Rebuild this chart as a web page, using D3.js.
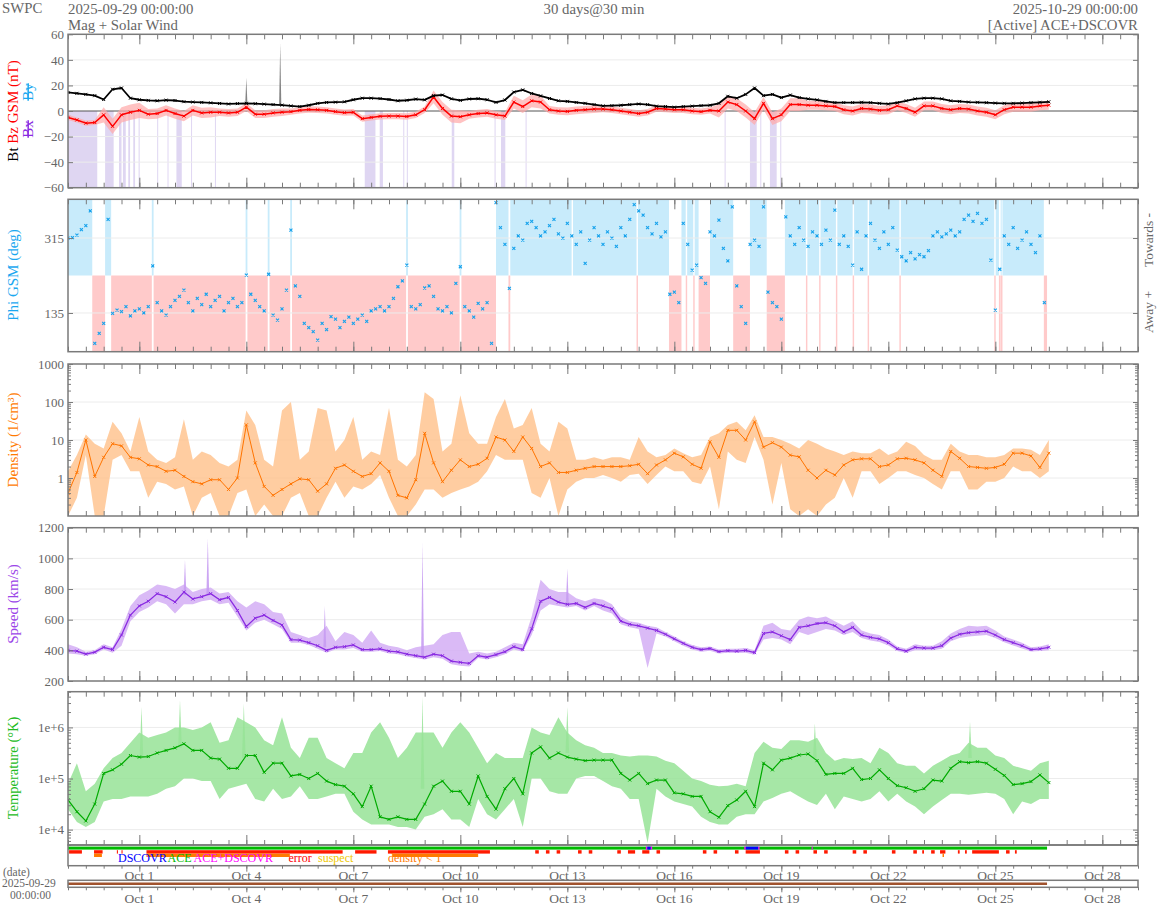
<!DOCTYPE html>
<html><head><meta charset="utf-8">
<script src="https://cdn.jsdelivr.net/npm/d3@7"></script>
<style>body{margin:0;background:#fff}svg{display:block}text{font-family:"Liberation Serif","Times New Roman",serif}</style>
</head><body><svg id="c" width="1158" height="905"></svg>
<script>
// ---------------- DATA (6-hour samples from 2025-09-29 00:00 UTC) ----------------
const tickLabels = ["Oct 1","Oct 4","Oct 7","Oct 10","Oct 13","Oct 16","Oct 19","Oct 22","Oct 25","Oct 28"];
const bt = [14.5,13.8,13,12,9,17,18,10,8.8,8.3,8,8.5,8.2,7.3,7,6.7,6.4,5.9,5.5,5.8,6,5.7,5.4,5,4.6,4,3.5,4.5,6,6.7,6.9,7.2,8.8,10,10,9.7,9,8,8.4,9.3,8.7,12,12.5,9.5,8.3,9.4,9.6,8.8,6.8,8.6,14.8,16.5,13.7,11.8,9.8,8,7.5,6.7,6,5,
 4,4.2,4.5,5,5.5,5,3.8,3.5,3,3.5,3.8,4.2,4.5,6,11.5,10,13,18,12,13,10.5,12.5,10.5,9.5,8.7,7.5,6.6,6.6,6.6,6.8,6.5,6,5.5,6.5,8,9.5,10,10,9.5,8,7.5,7,6.8,6.5,6.2,6,6,6.2,6.5,6.8,7.2];
const bz = [-5,-7,-9.5,-9,-3,-12,-3,-1,0.5,-2.5,-2,0.5,-2,-4,0.5,-1.5,-1,-1,-1.5,-1,3,-2.5,-2.5,-1.5,-1,-0.5,0.5,1.2,1,0.5,-0.5,-1.3,-1,-6,-5,-4.2,-4,-4,-4.3,-3,1,11,2,-4,-4.5,-3,-2,-1.5,-3,-4,7,3.5,8,7,1,0,-0.3,0.5,1,1.5,
 1.5,1,0,-1,-2,-1,2,1.5,1,1,0,-0.5,0.5,0,7,5,0,-6,6,-6,-3,5,5,4.5,4.5,4,3.5,1,0,2,1.5,0.5,1,4,2,-1,4,4,2,1,2,1.5,0,-1,-3,1,3,3,3,4,4.5];
const bzSpread = [2,2,2,2,6,6,6,6,6,4,4,4,4,4,4,4,4,3,3,3,3,3,3,3,3,2.5,2.5,2.5,2.5,2.5,2.5,2.5,2.5,2.5,2.5,2.5,2.5,2.5,2.5,2.5,2.5,5,5,5,5,3,3,3,3,3,5,5,5,5,3,3,3,3,3,3,
 2.5,2.5,2.5,2.5,2.5,2.5,2.5,2.5,2.5,2.5,2.5,2.5,2.5,5,5,5,5,5,5,5,5,5,5,3.5,3.5,3.5,3.5,3.5,3.5,3.5,3.5,3.5,3.5,3.5,3.5,3.5,3.5,3.5,3.5,3.5,3.5,3.5,3.5,3.5,3.5,3.5,3.5,3.5,3.5,3.5,3.5];
const btSpikeDays = [5.0, 5.95];
const btSpikeBase = [6, 5];
const btSpikeTop = [26, 53];
// days where Bx/By shading (purple) is drawn
const bxBySpans = [[0,0.82],[1.04,1.28],[1.43,1.5],[1.54,1.62],[1.69,1.74],[1.83,1.88],[1.98,2.01],[2.5,2.52],[2.79,2.81],[3.04,3.19],[3.45,3.47],[4.12,4.14],[8.32,8.62],[8.74,8.83],[9.4,9.42],[9.5,9.52],[10.76,10.83],[11.96,11.98],[12.14,12.26],[12.83,12.85],[18.41,18.43],[19.12,19.31],[19.41,19.43],[19.68,19.87],[19.97,19.99]];
// Phi GSM, 3-hour samples
const phi = [315,316,322,335,345,380,62,86, 110,360,134,142,138,150,128,140, 145,135,150,248,160,140,130,150, 165,175,190,160,140,170,155,180,
 150,165,175,140,160,170,150,160, 226,180,165,150,140,228,130,118, 145,190,334,200,175,110,100,90, 70,110,95,126,120,100,115,125,
 110,120,130,115,140,145,150,140, 150,170,198,212,250,150,145,155, 195,200,175,145,140,150,135,206, 246,150,140,125,158,145,160,62,
 400,340,300,194,290,320,310,350, 355,340,320,330,345,360,325,315, 350,320,300,330,254,310,340,320, 300,330,315,295,340,320,360,395,
 380,370,340,325,350,318,330,180, 185,160,350,300,238,250,220,206, 330,320,358,290,260,390,200,150, 110,300,310,295,390,185,160,150,
 120,366,320,300,340,310,295,330, 320,300,334,310,382,300,320,295, 250,330,240,320,350,310,290,330, 300,340,286,270,260,280,265,275,
 270,285,320,330,318,325,334,320, 330,360,370,355,374,350,360,262, 142,240,320,300,340,290,310,330, 300,280,320,160];
const towardSpans = [[0,0.68],[1.04,1.21],[2.35,2.4],[4.98,5.03],[5.6,5.65],[6.23,6.28],[9.48,9.53],[10.98,11.03],[12.0,12.35],[12.4,14.12],[14.16,15.94],[15.98,16.85],[17.2,17.32],[17.36,17.53],[17.57,17.68],[18.0,18.65],[19.12,19.59],[20.1,20.69],[20.73,21.06],[21.1,21.53],[21.57,22.0],[22.04,22.42],[22.46,23.31],[23.35,25.97],[26.01,26.1],[26.15,26.16],[26.2,27.36]];
const awaySpans = [[0.68,1.04],[1.21,2.35],[2.4,4.98],[5.03,5.6],[5.65,6.23],[6.28,9.48],[9.53,10.98],[11.03,12.0],[12.35,12.4],[15.94,15.98],[16.85,17.2],[17.32,17.36],[17.53,17.57],[17.68,18.0],[18.65,19.12],[19.59,20.1],[20.69,20.73],[21.06,21.1],[21.53,21.57],[22.0,22.04],[22.42,22.46],[23.31,23.35],[25.97,26.01],[26.1,26.15],[26.16,26.2],[27.36,27.45]];
const density = [0.4,1.4,10,1.1,3.5,8,7,3.5,3.2,2.2,2,1.5,1.6,1.1,0.8,0.7,0.9,0.9,0.5,1.0,25,2.5,0.6,0.35,0.5,0.7,0.95,0.9,0.45,0.7,1.8,2.2,1.5,1.1,1.3,2.5,1.5,0.35,0.3,0.9,15,2.5,0.8,1.6,3,2,2.3,3.3,12,10,5,12,6,2,2.5,1.4,1.4,1.6,1.8,2,
 2,2,2,2.1,2.3,1.3,2.2,3,4.5,3.6,2.3,1.8,9,3.5,18,18,10,30,6.5,8.5,6.5,4,3.6,1.6,1,1.6,1.2,2.2,3,3.2,3.2,2,2.2,3.2,3.3,3,2.5,1.6,1.1,5,3.3,2,1.9,1.8,1.9,2.3,4.5,4.5,3.8,1.9,4.5];
const densityHi = [1.5,4,14,8,6,30,15,5,40,5,3,2.5,3.5,35,3,5,4,2.5,2,3,60,25,3,2,60,100,3,5,70,60,5,10,40,3,5,4,70,3,2,4,180,120,5,8,150,15,8,8,40,120,20,25,70,8,5,30,20,3,3,3.5,
 3,3.5,3.5,3,12,5,3.5,4,6,4.5,3.5,4,12,15,25,30,18,45,12,12,10,8,6,10,8,6,5,4,5,4.5,4.5,6,4,5,9,7,4,3,3,8,5,4,4,3.5,3.5,4,6,6,5.5,4,10];
const densityLo = [0.1,0.3,4,0.1,0.1,3,4,1.5,1.5,0.3,0.8,0.7,0.5,0.6,0.1,0.3,0.4,0.1,0.1,0.4,0.5,0.1,0.2,0.1,0.1,0.3,0.4,0.1,0.1,0.3,0.8,0.3,0.6,0.5,0.7,1.2,0.3,0.1,0.1,0.2,0.5,0.5,0.3,0.4,0.5,0.6,0.8,1.5,4,3,3,3,0.4,0.3,1,0.1,0.5,0.8,1,1,
 1.2,1,0.8,1.2,1.3,0.7,1.2,2,1.5,1.5,0.8,0.7,2,0.15,5,3,2.5,12,3,0.2,2.5,0.15,0.1,0.15,0.1,0.2,0.3,1,0.3,1.5,1.5,0.7,1,1.5,1.5,1.2,1,0.7,0.5,1.5,1.5,0.5,0.5,0.8,0.8,1,2,1.5,1.5,1,1.5];
const speed = [400,395,376,388,420,405,500,630,690,720,770,750,715,780,735,750,770,730,745,660,555,610,630,595,565,470,467,450,430,400,420,424,435,405,405,410,395,390,375,365,355,375,365,330,322,315,365,355,372,391,424,405,540,720,745,715,700,706,680,706,
 690,670,590,570,560,545,530,505,475,446,420,405,412,392,398,395,400,385,510,520,495,470,550,560,575,580,560,520,550,500,485,475,450,410,395,420,415,415,430,480,505,515,520,525,500,470,450,430,405,410,420];
const speedHi = [440,420,390,400,440,420,540,690,760,790,830,820,800,830,780,800,810,770,780,720,680,720,700,650,640,520,500,480,500,560,460,520,500,450,530,450,430,420,400,420,430,440,500,520,520,380,390,380,390,420,450,440,620,860,800,780,780,740,720,740,
 730,700,620,590,580,560,550,520,490,460,435,420,425,405,410,410,415,400,560,580,540,530,600,620,610,620,590,560,590,530,510,500,470,425,410,440,430,430,460,510,540,560,555,560,530,490,470,450,420,425,440];
const speedLo = [380,375,365,375,405,385,430,590,650,680,720,700,640,700,700,720,730,700,710,620,530,580,600,570,540,450,450,435,410,385,405,405,415,390,390,395,380,375,360,350,340,355,345,310,300,295,350,340,355,375,405,390,500,660,700,690,680,690,660,690,
 660,640,570,550,540,285,510,490,460,430,405,390,398,380,385,382,385,372,470,480,470,440,520,500,520,540,530,500,520,480,465,455,432,395,382,400,400,400,410,460,480,490,495,500,480,452,432,412,392,395,400];
const speedSpikeDays = [3.28, 3.92, 7.2, 9.94, 14.0];
const speedSpikeBase = [760, 760, 420, 360, 700];
const speedSpikeTop = [990, 1130, 690, 1100, 935];
// temperature as log10(K)
const tempLog = [4.58,4.35,4.17,4.5,5.1,5.17,5.28,5.45,5.42,5.43,5.5,5.55,5.6,5.68,5.55,5.55,5.4,5.38,5.2,5.2,5.45,5.45,5.12,5.3,5.3,5.05,5.08,5.0,5.1,4.95,4.88,4.85,4.7,4.45,4.85,4.25,4.2,4.25,4.2,4.2,4.5,4.85,4.95,4.75,4.75,4.5,5.05,4.65,4.4,4.8,5.0,4.7,5.5,5.62,5.4,5.5,5.42,5.38,5.35,5.36,
 5.36,5.36,5.1,4.97,5.1,4.9,4.97,4.97,4.72,4.7,4.65,4.65,4.35,4.24,4.47,4.58,4.75,4.45,5.3,5.17,5.36,5.4,5.46,5.48,5.35,5.08,5.1,5.1,5.2,4.98,5.0,5.17,5.0,4.86,4.82,4.75,4.8,4.97,4.95,5.2,5.33,5.31,5.33,5.3,5.18,5.06,4.88,4.9,4.94,5.07,4.92];
const tempLogHi = [4.9,5.3,4.75,4.9,5.2,5.4,5.5,5.7,5.9,5.8,5.85,5.9,6.0,6.0,5.95,6.0,6.1,5.7,5.75,6.2,6.1,6.0,5.75,5.65,6.2,5.6,5.4,5.8,5.8,5.4,5.3,5.2,5.5,5.5,5.9,6.1,5.8,5.4,5.6,5.9,5.9,5.9,5.6,5.9,6.1,5.9,5.6,5.3,5.5,5.4,5.4,5.4,6.0,5.9,5.85,6.2,5.9,5.75,5.65,5.6,
 5.5,5.5,5.45,5.43,5.45,5.45,5.43,5.35,5.3,5.15,5.0,4.95,4.88,4.85,4.86,4.9,4.85,5.5,5.72,5.6,5.58,5.75,5.75,5.72,5.8,5.5,5.35,5.4,5.38,5.4,5.3,5.6,5.5,5.3,5.25,5.25,5.1,5.25,5.35,5.45,5.5,5.7,5.6,5.6,5.45,5.4,5.25,5.2,5.15,5.3,5.35];
const tempLogLo = [4.4,4.15,4.05,4.15,4.55,4.6,4.6,4.65,4.65,4.65,4.7,4.8,4.85,5.0,5.0,4.95,4.95,4.6,4.8,4.85,4.9,4.6,4.55,4.8,4.6,4.65,4.85,4.6,4.6,4.65,4.7,4.7,4.35,4.2,4.1,4.1,4.1,4.05,4.05,4.0,4.25,4.3,4.4,4.2,4.2,4.05,4.6,4.3,4.2,4.4,4.6,4.05,5.0,5.0,4.75,4.7,4.7,5.0,5.05,5.05,
 4.95,4.85,4.8,4.6,4.6,3.74,4.8,4.65,4.55,4.5,4.45,4.25,4.15,4.1,4.1,4.25,4.3,4.3,4.55,4.62,4.7,4.75,4.65,4.55,4.48,4.7,4.4,4.65,4.6,4.55,4.6,4.75,4.55,4.7,4.55,4.45,4.3,4.45,4.58,4.7,4.7,4.68,4.7,4.72,4.7,4.6,4.3,4.55,4.5,4.6,4.6];
const tempSpikeDays = [2.06, 3.14, 4.93, 9.94, 14.0, 20.94, 25.29];
const tempSpikeBaseLog = [5.4, 5.6, 5.4, 4.8, 5.5, 5.4, 5.4];
const tempSpikeTopLog = [6.4, 6.53, 6.47, 6.6, 6.4, 6.08, 6.11];
// status strip
const aceSpan = [0, 27.45];
const dscovrSpans = [[16.24,16.34],[19.0,19.35]];
const aceDscovrSpans = [[16.2,16.24],[16.34,16.38],[18.96,19.0],[19.35,19.39],[20.85,20.88]];
const errorSpans = [[0.03,0.39],[0.73,0.97],[1.37,1.4],[1.5,1.53],[2.2,7.7],[8.05,8.65],[8.97,11.83],[13.1,13.2],[13.4,13.5],[13.7,13.8],[14.3,14.4],[14.6,14.7],[15.4,15.5],[15.7,15.9],[16.1,16.3],[16.5,16.6],[17.8,17.9],[18.1,18.2],[18.7,18.8],[19.0,19.4],[20.1,20.2],[20.4,20.5],[20.9,21.0],[21.2,21.3],[22.0,22.1],[22.3,22.4],[23.1,23.2],[23.7,23.8],[23.95,24.0],[24.2,24.3],[24.45,24.6],[24.95,25.0],[25.15,25.2],[25.35,26.1],[26.3,26.4],[26.55,26.6]];
const densityLowSpans = [[0.73,0.95],[2.2,6.22],[9.1,11.5],[24.52,24.56]];
const dataEndDay = 27.45;

// ---------------- CHART ----------------
const svg = d3.select("#c");
const X0 = 68, X1 = 1138;
const T0 = Date.UTC(2025, 8, 29);
const dayDate = d => new Date(T0 + d * 864e5);
const x = d3.scaleUtc().domain([dayDate(0), dayDate(30)]).range([X0, X1]);
const t6 = i => x(dayDate(i * 0.25));
const t3 = i => x(dayDate(i * 0.125));
const FONT_GREY = "#666", AX = "#7a7a7a";

const panels = [
  {top: 34.3, bot: 187.7}, {top: 199.3, bot: 351.7}, {top: 364, bot: 516},
  {top: 527.7, bot: 681}, {top: 691.7, bot: 845}
];
const yB = d3.scaleLinear().domain([-60, 60]).range([panels[0].bot, panels[0].top]);
const yP = d3.scaleLinear().domain([42, 408]).range([panels[1].bot, panels[1].top]);
const yD = d3.scaleLog().domain([0.1, 1000]).range([panels[2].bot, panels[2].top]).clamp(true);
const yS = d3.scaleLinear().domain([200, 1200]).range([panels[3].bot, panels[3].top]).clamp(true);
const yT = d3.scaleLog().domain([5e3, 5e6]).range([panels[4].bot, panels[4].top]).clamp(true);

const parseLab = d3.utcParse("%Y %b %d");
const majorDates = tickLabels.map(l => parseLab("2025 " + l));
const minorDates = d3.utcHour.every(12).range(dayDate(0), dayDate(30.01));

const defs = svg.append("defs");
panels.forEach((p, k) => {
  defs.append("clipPath").attr("id", "clip" + k).append("rect")
    .attr("x", X0).attr("y", p.top).attr("width", X1 - X0).attr("height", p.bot - p.top);
});
const layer = k => svg.append("g").attr("clip-path", `url(#clip${k})`);

function grid(k, scale, vals) {
  const g = layer(k);
  g.selectAll("line").data(vals).join("line")
    .attr("x1", X0).attr("x2", X1).attr("y1", d => scale(d)).attr("y2", d => scale(d))
    .attr("stroke", "#ececec").attr("stroke-width", 1);
}
function styleAxis(g) {
  g.attr("font-family", null);
  g.select(".domain").remove();
  g.selectAll(".tick line").attr("stroke", AX);
  g.selectAll(".tick text").attr("fill", FONT_GREY).style("font-size", "13px")
    .style("font-family", '"Liberation Serif","Times New Roman",serif');
}
function xTicks(top, bot) {
  [[minorDates, 5], [majorDates, 10]].forEach(([vals, s]) => {
    svg.append("g").attr("transform", `translate(0,${top})`)
      .call(d3.axisTop(x).tickValues(vals).tickSize(-s).tickFormat("")).call(styleAxis);
    svg.append("g").attr("transform", `translate(0,${bot})`)
      .call(d3.axisBottom(x).tickValues(vals).tickSize(-s).tickFormat("")).call(styleAxis);
  });
}
function yAxis(scale, vals, fmt, minor) {
  svg.append("g").attr("transform", `translate(${X0},0)`)
    .call(d3.axisLeft(scale).tickValues(vals).tickSizeInner(-5).tickSizeOuter(0).tickPadding(4).tickFormat(fmt)).call(styleAxis);
  svg.append("g").attr("transform", `translate(${X1},0)`)
    .call(d3.axisRight(scale).tickValues(vals).tickSizeInner(-5).tickSizeOuter(0).tickFormat("")).call(styleAxis);
  if (minor) {
    svg.append("g").attr("transform", `translate(${X0},0)`)
      .call(d3.axisLeft(scale).tickValues(minor).tickSizeInner(-3).tickSizeOuter(0).tickFormat("")).call(styleAxis);
    svg.append("g").attr("transform", `translate(${X1},0)`)
      .call(d3.axisRight(scale).tickValues(minor).tickSizeInner(-3).tickSizeOuter(0).tickFormat("")).call(styleAxis);
  }
}
const cross = "M-1.5,-1.5L1.5,1.5M-1.5,1.5L1.5,-1.5";
function series(g, vals, tx, ys, color, lw) {
  const line = d3.line().x((d, i) => tx(i)).y(d => ys(d));
  g.append("path").datum(vals).attr("d", line).attr("fill", "none").attr("stroke", color).attr("stroke-width", lw).attr("stroke-linejoin", "round");
  g.selectAll(null).data(vals).join("path")
    .attr("transform", (d, i) => `translate(${tx(i)},${ys(d)})`)
    .attr("d", cross).attr("stroke", color).attr("stroke-width", 1).attr("fill", "none");
}
function band(g, lo, hi, ys, color, op) {
  const a = d3.area().x((d, i) => t6(i)).y0((d, i) => ys(lo[i])).y1((d, i) => ys(hi[i]));
  g.append("path").datum(lo).attr("d", a).attr("fill", color).attr("opacity", op);
}
function spikes(g, days, base, top, ys, color, op, hw) {
  days.forEach((d, k) => {
    g.append("path").attr("d", d3.line()([[x(dayDate(d - hw)), ys(base[k])], [x(dayDate(d)), ys(top[k])], [x(dayDate(d + hw)), ys(base[k])]]))
      .attr("fill", color).attr("opacity", op);
  });
}
function spans(g, list, y0, y1, color, op) {
  g.selectAll(null).data(list).join("rect")
    .attr("x", d => x(dayDate(d[0]))).attr("width", d => Math.max(1, x(dayDate(d[1])) - x(dayDate(d[0]))))
    .attr("y", y0).attr("height", y1 - y0).attr("fill", color).attr("opacity", op);
}

// ---- Panel 1: magnetic field
{
  const g = layer(0);
  spans(g, bxBySpans, yB(0), panels[0].bot, "#d9cff0", 0.85);
  grid(0, yB, [40, 20, -20, -40]);
  const g2 = layer(0);
  g2.append("line").attr("x1", X0).attr("x2", X1).attr("y1", yB(0)).attr("y2", yB(0)).attr("stroke", "#555").attr("stroke-width", 1);
  const lo = bz.map((v, i) => v - bzSpread[i]), hi = bz.map((v, i) => v + bzSpread[i]);
  band(g2, lo, hi, yB, "#ffa8a8", 0.7);
  spikes(g2, btSpikeDays, btSpikeBase, btSpikeTop, yB, "#777", 0.9, 0.03);
  series(g2, bz, t6, yB, "#ff0000", 1.5);
  series(g2, bt, t6, yB, "#000", 1.8);
  yAxis(yB, [-60, -40, -20, 0, 20, 40, 60], d3.format("d"));
}
// ---- Panel 2: Phi
{
  const g = layer(1);
  spans(g, towardSpans, panels[1].top, yP(225), "#c8ebfb", 1);
  spans(g, awaySpans, yP(225), panels[1].bot, "#ffcaca", 1);
  grid(1, yP, [135, 315]);
  const g2 = layer(1);
  g2.selectAll(null).data(phi).join("path")
    .attr("transform", (d, i) => `translate(${t3(i)},${yP(d)})`)
    .attr("d", cross).attr("stroke", "#16a2ec").attr("stroke-width", 1.1).attr("fill", "none");
  yAxis(yP, [135, 315], d3.format("d"));
}
// ---- Panel 3: density
{
  grid(2, yD, [1, 10, 100]);
  const g = layer(2);
  band(g, densityLo, densityHi, yD, "#ffc08a", 0.8);
  series(g, density, t6, yD, "#ff7400", 1);
  const minor = [];
  [0.1, 1, 10, 100].forEach(b => { for (let m = 2; m <= 9; m++) minor.push(b * m); });
  yAxis(yD, [1, 10, 100, 1000], d3.format("d"), minor);
}
// ---- Panel 4: speed
{
  grid(3, yS, [400, 600, 800, 1000]);
  const g = layer(3);
  band(g, speedLo, speedHi, yS, "#d3aef5", 0.85);
  spikes(g, speedSpikeDays, speedSpikeBase, speedSpikeTop, yS, "#c79cf2", 0.9, 0.04);
  series(g, speed, t6, yS, "#8a2be2", 1.3);
  yAxis(yS, [200, 400, 600, 800, 1000, 1200], d3.format("d"));
}
// ---- Panel 5: temperature
{
  grid(4, yT, [1e4, 1e5, 1e6]);
  const g = layer(4);
  const p10 = v => Math.pow(10, v);
  band(g, tempLogLo.map(p10), tempLogHi.map(p10), yT, "#96e396", 0.85);
  spikes(g, tempSpikeDays, tempSpikeBaseLog.map(p10), tempSpikeTopLog.map(p10), yT, "#96e396", 0.85, 0.05);
  series(g, tempLog.map(p10), t6, yT, "#00aa00", 1.2);
  const minor = [];
  [1e3, 1e4, 1e5, 1e6].forEach(b => { for (let m = 2; m <= 9; m++) { const v = b * m; if (v >= 5e3 && v <= 5e6) minor.push(v); } });
  yAxis(yT, [1e4, 1e5, 1e6], d => "1e+" + Math.round(Math.log10(d)), minor);
}

// panel borders + x ticks
panels.forEach(p => {
  xTicks(p.top, p.bot);
  svg.append("rect").attr("x", X0).attr("y", p.top).attr("width", X1 - X0).attr("height", p.bot - p.top)
    .attr("fill", "none").attr("stroke", AX).attr("stroke-width", 1.5);
});

// ---- status strip
const SY0 = 845, SY1 = 865.7;
{
  const g = svg.append("g");
  spans(g, [aceSpan], 846.6, 849.6, "#00bb00", 1);
  spans(g, dscovrSpans, 846.6, 849.6, "#0000ff", 1);
  spans(g, aceDscovrSpans, 846.6, 849.6, "#ff00ff", 1);
  spans(g, errorSpans, 850.2, 853.6, "#ff1a00", 1);
  spans(g, densityLowSpans, 853.6, 857, "#ff7a00", 1);
  const leg = [["DSCOVR", "#0000ff", 118], ["ACE", "#00bb00", 167.5], ["ACE+DSCOVR", "#ff00ff", 193.5], ["error", "#ff0000", 288.5], ["suspect", "#f0c800", 318], ["density < 1", "#ff7a00", 388]];
  g.selectAll(null).data(leg).join("text").attr("x", d => d[2]).attr("y", 862).text(d => d[0])
    .attr("fill", d => d[1]).style("font-size", "12px");
  svg.append("rect").attr("x", X0).attr("y", SY0).attr("width", X1 - X0).attr("height", SY1 - SY0)
    .attr("fill", "none").attr("stroke", AX).attr("stroke-width", 1.5);
  [[minorDates, 3], [majorDates, 6]].forEach(([v, s]) => svg.append("g").attr("transform", `translate(0,${SY1})`)
    .call(d3.axisBottom(x).tickValues(v).tickSize(s).tickFormat("")).call(styleAxis));
  svg.append("g").selectAll("text").data(majorDates).join("text")
    .attr("x", d => x(d)).attr("y", 880).attr("text-anchor", "middle").text((d, i) => tickLabels[i])
    .attr("fill", FONT_GREY).style("font-size", "13.5px");
}
// ---- date strip
{
  const Y0 = 880.3, Y1 = 887.3;
  svg.append("line").attr("x1", x(dayDate(0))).attr("x2", x(dayDate(dataEndDay))).attr("y1", 883.8).attr("y2", 883.8)
    .attr("stroke", "#a0522d").attr("stroke-width", 2.6);
  svg.append("rect").attr("x", X0).attr("y", Y0).attr("width", X1 - X0).attr("height", Y1 - Y0)
    .attr("fill", "none").attr("stroke", AX).attr("stroke-width", 1.5);
  [[minorDates, 3], [majorDates, 5]].forEach(([v, s]) => svg.append("g").attr("transform", `translate(0,${Y1})`)
    .call(d3.axisBottom(x).tickValues(v).tickSize(s).tickFormat("")).call(styleAxis));
  svg.append("g").selectAll("text").data(majorDates).join("text")
    .attr("x", d => x(d)).attr("y", 903).attr("text-anchor", "middle").text((d, i) => tickLabels[i])
    .attr("fill", FONT_GREY).style("font-size", "13.5px");
  const lt = [["(date)", 3, 875.5], ["2025-09-29", 2, 887], ["00:00:00", 10, 898.5]];
  svg.append("g").selectAll("text").data(lt).join("text").attr("x", d => d[1]).attr("y", d => d[2]).text(d => d[0])
    .attr("fill", FONT_GREY).style("font-size", "11.5px");
}

// ---- headers
const hdr = [["SWPC", 2, 13, "start"], ["2025-09-29 00:00:00", 68, 13.5, "start"], ["Mag + Solar Wind", 68, 29.5, "start"],
  ["30 days@30 min", 594, 13.5, "middle"], ["2025-10-29 00:00:00", 1138, 13.5, "end"], ["[Active] ACE+DSCOVR", 1138, 29.5, "end"]];
svg.append("g").selectAll("text").data(hdr).join("text").attr("x", d => d[1]).attr("y", d => d[2]).attr("text-anchor", d => d[3])
  .text(d => d[0]).attr("fill", FONT_GREY).style("font-size", "14.8px");

// ---- y titles
function ytitle(xp, yc, parts, size) {
  const t = svg.append("text").attr("transform", `translate(${xp},${yc}) rotate(-90)`).attr("text-anchor", "middle").style("font-size", size + "px");
  parts.forEach(p => {
    const s = t.append("tspan").text(p[0]).attr("fill", p[1]);
    if (p[2]) s.attr("text-decoration", "line-through");
  });
}
ytitle(17.5, 111, [["Bt  ", "#000"], ["Bz GSM (nT)", "#ff0000"]], 15);
ytitle(32.5, 129, [["Bx", "#8a2be2", 1]], 15);
ytitle(32.5, 92, [["By", "#1ba8f0", 1]], 15);
ytitle(17.5, 275, [["Phi GSM (deg)", "#1ba8f0"]], 15);
ytitle(17.5, 440, [["Density (1/cm\u00b3)", "#ff7a00"]], 15);
ytitle(17.5, 604, [["Speed (km/s)", "#9b45e8"]], 15);
ytitle(17.5, 768, [["Temperature (\u00b0K)", "#22bb22"]], 14.5);
ytitle(1153, 240, [["Towards -", FONT_GREY]], 13.5);
ytitle(1153, 312, [["Away +", FONT_GREY]], 13.5);
</script></body></html>
